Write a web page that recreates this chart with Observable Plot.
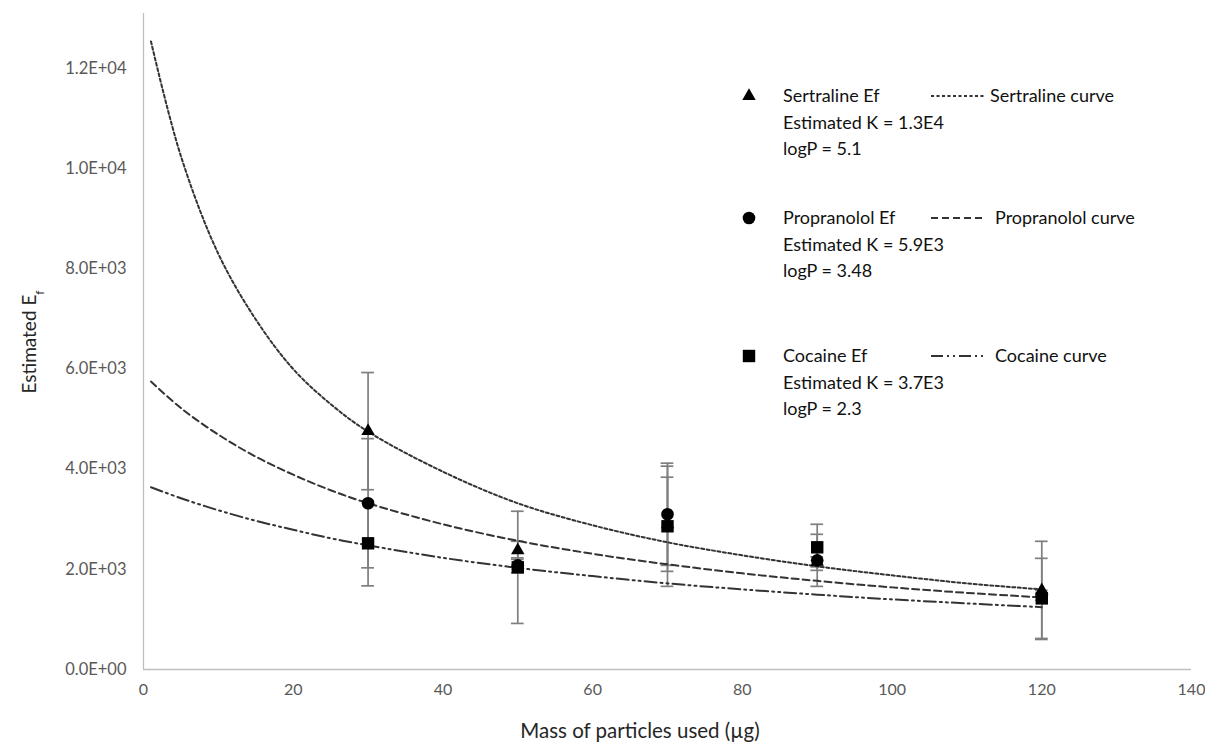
<!DOCTYPE html>
<html><head><meta charset="utf-8">
<script src="https://cdn.jsdelivr.net/npm/d3@7"></script>
<script src="https://cdn.jsdelivr.net/npm/@observablehq/plot@0.6"></script>
<style>body{margin:0;background:#fff;font-family:Lato,"Open Sans",sans-serif}</style>
</head><body><div id="chart"></div>
<script>
// ---- data ----
const masses = [30, 50, 70, 90, 120];
const sertralineEf  = [4760, 2380, 2900, 2150, 1580];
const sertralineErr = [1170, 180, 940, 100, 980];
const propranololEf  = [3320, 2080, 3100, 2180, 1480];
const propranololErr = [1290, 150, 1020, 520, 100];
const cocaineEf  = [2520, 2040, 2860, 2440, 1420];
const cocaineErr = [850, 1120, 1200, 460, 800];

const curveMass = [1, 5, 10, 15, 20, 25, 30, 40, 50, 60, 70, 80, 90, 100, 110, 120];
const sertralineCurve  = [12540, 10250, 8300, 6990, 6000, 5300, 4750, 3950, 3320, 2880, 2540, 2280, 2060, 1880, 1720, 1600];
const propranololCurve = [5750, 5220, 4690, 4250, 3890, 3580, 3320, 2900, 2570, 2310, 2100, 1920, 1770, 1640, 1530, 1440];
const cocaineCurve     = [3640, 3420, 3180, 2970, 2790, 2620, 2480, 2230, 2030, 1865, 1720, 1600, 1495, 1400, 1320, 1245];

const seriesNames = ["Sertraline", "Propranolol", "Cocaine"];
const legendK = ["Estimated K = 1.3E4", "Estimated K = 5.9E3", "Estimated K = 3.7E3"];
const legendLogP = ["logP = 5.1", "logP = 3.48", "logP = 2.3"];
const yTicks = [0, 2000, 4000, 6000, 8000, 10000, 12000];
const xTicks = [0, 20, 40, 60, 80, 100, 120, 140];
const xLabel = "Mass of particles used (µg)";

// ---- styles ----
const symbols = ["triangle", "circle", "square"];
const radii = [5, 6.3, 7];
const dashes = ["3,2.5", "7,4", "12,4,2,4,2,4"];
const curveColor = "#333333";

const efs = [sertralineEf, propranololEf, cocaineEf];
const errs = [sertralineErr, propranololErr, cocaineErr];
const curves = [sertralineCurve, propranololCurve, cocaineCurve];

const points = [];
seriesNames.forEach((s, i) => masses.forEach((m, j) => points.push({series: s, idx: i, x: m, y: efs[i][j], err: errs[i][j]})));
const curveRows = [];
seriesNames.forEach((s, i) => curveMass.forEach((m, j) => curveRows.push({series: s, idx: i, x: m, y: curves[i][j]})));

const fmtY = v => {
  if (v === 0) return "0.0E+00";
  const e = Math.floor(Math.log10(v));
  return (v / Math.pow(10, e)).toFixed(1) + "E+" + String(e).padStart(2, "0");
};

const font = "Lato, 'Open Sans', sans-serif";
const marks = [
  Plot.ruleX([0], {stroke: "#bfbfbf", strokeWidth: 1.3}),
  Plot.ruleY([0], {stroke: "#bfbfbf", strokeWidth: 1.3}),
  Plot.axisX({ticks: xTicks, tickSize: 0, tickPadding: 14, label: null, color: "#595959", fontSize: 16}),
  Plot.axisY({ticks: yTicks, tickSize: 0, tickPadding: 17, label: null, tickFormat: fmtY, color: "#595959", fontSize: 16.5}),
  Plot.ruleX(points, {x: "x", y1: d => d.y - d.err, y2: d => d.y + d.err, stroke: "#7f7f7f", strokeWidth: 1.7}),
  Plot.ruleY(points, {y: d => d.y + d.err, x1: d => d.x - 0.85, x2: d => d.x + 0.85, stroke: "#7f7f7f", strokeWidth: 1.7}),
  Plot.ruleY(points, {y: d => d.y - d.err, x1: d => d.x - 0.85, x2: d => d.x + 0.85, stroke: "#7f7f7f", strokeWidth: 1.7}),
];
seriesNames.forEach((s, i) => {
  marks.push(Plot.line(curveRows.filter(d => d.idx === i), {x: "x", y: "y", curve: "catmull-rom", stroke: curveColor, strokeWidth: 2, strokeDasharray: dashes[i]}));
});
seriesNames.forEach((s, i) => {
  marks.push(Plot.dot(points.filter(d => d.idx === i), {x: "x", y: "y", symbol: symbols[i], r: radii[i], fill: "black", stroke: "none"}));
});

const chart = Plot.plot({
  width: 1205, height: 745,
  marginLeft: 143, marginRight: 14, marginTop: 13, marginBottom: 76,
  x: {domain: [0, 140]},
  y: {domain: [0, 13100]},
  style: {fontFamily: font, background: "white"},
  marks
});
document.getElementById("chart").appendChild(chart);

// ---- axis titles & legend (layout) ----
const svg = d3.select(chart);
svg.append("text").attr("x", 640).attr("y", 738).attr("text-anchor", "middle")
  .style("font-family", font).style("font-size", "20.5px").attr("fill", "#262626").text(xLabel);
const yl = svg.append("text").attr("transform", "translate(36,342) rotate(-90)").attr("text-anchor", "middle")
  .style("font-family", font).style("font-size", "19px").attr("fill", "#262626");
yl.append("tspan").text("Estimated E");
yl.append("tspan").attr("baseline-shift", "sub").style("font-size", "12px").text("f");

const legendY = [96, 218, 356];
const symTypes = [d3.symbolTriangle, d3.symbolCircle, d3.symbolSquare];
const lg = svg.append("g").attr("text-anchor", "start").style("font-family", font).style("font-size", "18px").attr("fill", "#111");
seriesNames.forEach((s, i) => {
  const y0 = legendY[i];
  lg.append("path").attr("d", d3.symbol(symTypes[i], Math.PI * radii[i] * radii[i])())
    .attr("transform", `translate(749,${y0})`).attr("fill", "black");
  lg.append("text").attr("x", 783).attr("y", y0).attr("dy", "0.35em").text(s + " Ef");
  lg.append("line").attr("x1", 931).attr("x2", 985).attr("y1", y0).attr("y2", y0)
    .attr("stroke", curveColor).attr("stroke-width", 2).attr("stroke-dasharray", dashes[i]);
  lg.append("text").attr("x", i === 0 ? 990 : 995).attr("y", y0).attr("dy", "0.35em").text(s + " curve");
  lg.append("text").attr("x", 783).attr("y", y0 + 27).attr("dy", "0.35em").text(legendK[i]);
  lg.append("text").attr("x", 783).attr("y", y0 + 53).attr("dy", "0.35em").text(legendLogP[i]);
});
</script>
</body></html>
